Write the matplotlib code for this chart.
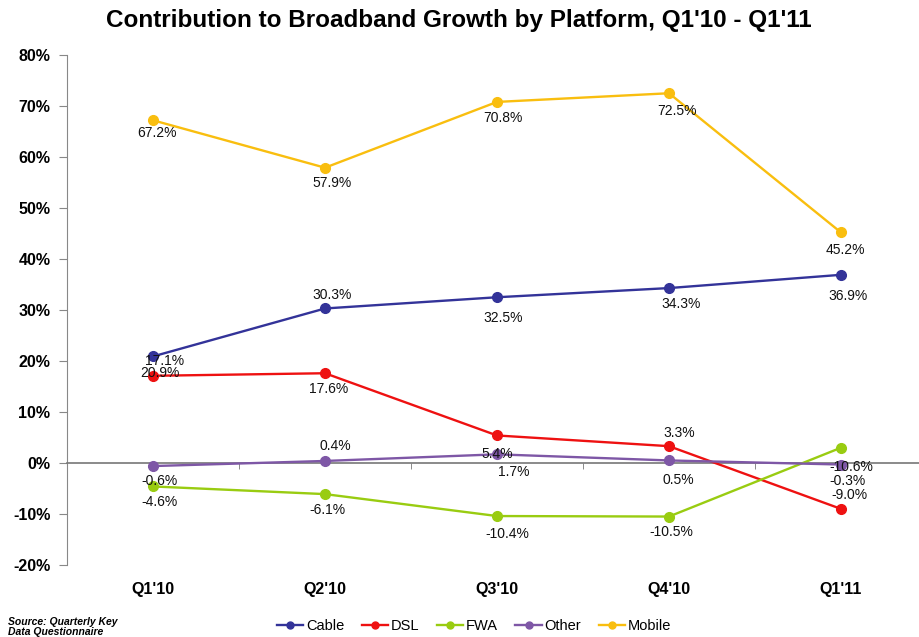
import matplotlib.pyplot as plt
from matplotlib.lines import Line2D

plt.rcParams['font.family'] = ['Liberation Sans', 'DejaVu Sans']

quarters = ["Q1'10", "Q2'10", "Q3'10", "Q4'10", "Q1'11"]

cable = [20.9, 30.3, 32.5, 34.3, 36.9]
dsl = [17.1, 17.6, 5.4, 3.3, -9.0]
fwa = [-4.6, -6.1, -10.4, -10.5, 3.0]
other = [-0.6, 0.4, 1.7, 0.5, -0.3]
mobile = [67.2, 57.9, 70.8, 72.5, 45.2]

# the last FWA point carries a different label in the source deck
fwa_labels = ["-4.6%", "-6.1%", "-10.4%", "-10.5%", "-10.6%"]

series = [
    ("Cable", cable, "#333399"),
    ("DSL", dsl, "#EE1111"),
    ("FWA", fwa, "#99CC11"),
    ("Other", other, "#7E57A6"),
    ("Mobile", mobile, "#F9BE0F"),
]

# label offsets from each point, in pixels (right, down)
offsets = {
    "Cable": [(7, 17), (7, -13), (6, 21), (12, 16), (7, 21)],
    "DSL": [(12, -15), (4, 16), (0, 19), (10, -13), (8, -14)],
    "FWA": [(6, 16), (2, 16), (10, 18), (2, 15), (10, 19)],
    "Other": [(6, 15), (10, -15), (17, 18), (9, 20), (7, 16)],
    "Mobile": [(4, 13), (7, 15), (6, 16), (8, 18), (4, 18)],
}

W, H = 919, 637
fig = plt.figure(figsize=(W / 100, H / 100), dpi=100)
ax = fig.add_axes([67 / W, 1 - 565 / H, (W - 67) / W, (565 - 55) / H])

x = list(range(len(quarters)))
for name, vals, color in series:
    ax.plot(x, vals, color=color, lw=1.7, marker="o", markersize=7,
            label=name, zorder=3)
    labels = fwa_labels if name == "FWA" else [f"{v:.1f}%" for v in vals]
    for xi, v, lab, (dx, dy) in zip(x, vals, labels, offsets[name]):
        ax.annotate(lab, (xi, v), xytext=(dx, -dy), textcoords="offset pixels",
                    ha="center", va="center", fontsize=10, color="#111111",
                    zorder=4)

ax.set_xlim(-0.5, -0.5 + (W - 67) / 172)
ax.set_ylim(-20, 80)

for side in ("top", "right"):
    ax.spines[side].set_visible(False)
ax.spines["left"].set_color("#888888")
ax.spines["bottom"].set_position(("data", 0))
ax.spines["bottom"].set_color("#777777")
ax.spines["bottom"].set_linewidth(1.2)

ax.set_yticks(range(-20, 81, 10))
ax.set_yticklabels([f"{v}%" for v in range(-20, 81, 10)],
                   fontsize=11.5, fontweight="bold")
ax.tick_params(axis="y", direction="out", length=6, color="#888888", pad=6)

ax.set_xticks(x)
ax.set_xticklabels([])
ax.tick_params(axis="x", which="major", length=0)
ax.set_xticks([i + 0.5 for i in x[:-1]], minor=True)
ax.tick_params(axis="x", which="minor", direction="out", length=4,
               color="#777777")

for xi, q in zip(x, quarters):
    ax.text(xi, -0.049, q, transform=ax.get_xaxis_transform(),
            ha="center", va="center", fontsize=11.5, fontweight="bold")

fig.text(459 / W, 1 - 21 / H,
         "Contribution to Broadband Growth by Platform, Q1'10 - Q1'11",
         ha="center", va="center", fontsize=17.5, fontweight="bold")

handles = [Line2D([], [], color=c, lw=1.7, marker="o", markersize=5)
           for _, _, c in series]
fig.legend(handles, [s[0] for s in series], loc="center",
           bbox_to_anchor=(474 / W, 1 - 626 / H), ncol=5, frameon=False,
           fontsize=10.5, handlelength=1.8, handletextpad=0.2,
           columnspacing=1.2)

fig.text(8 / W, 1 - 627 / H, "Source: Quarterly Key\nData Questionnaire",
         ha="left", va="center", fontsize=7.5, fontstyle="italic",
         fontweight="bold", linespacing=1.0)

fig.savefig("out.png", dpi=100)
